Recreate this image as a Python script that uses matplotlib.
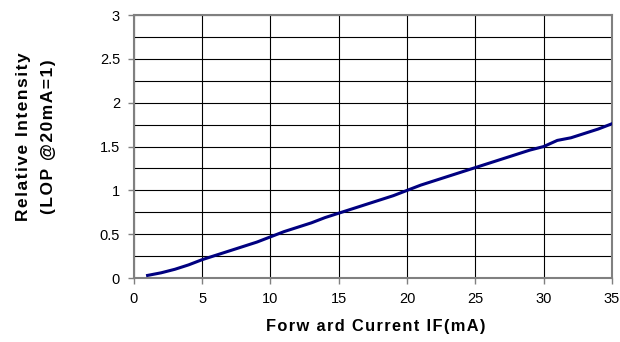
import matplotlib
matplotlib.use("Agg")
from matplotlib import pyplot as plt
import numpy as np

# forward current (mA) and relative light output
current = [1, 2, 3, 4, 5, 6, 7, 8, 9, 10, 11, 12, 13, 14, 15, 16, 17, 18,
           19, 20, 21, 22, 23, 24, 25, 26, 27, 28, 29, 30, 31, 32, 33, 34, 35]
intensity = [0.03, 0.06, 0.10, 0.15, 0.21, 0.26, 0.31, 0.36, 0.41, 0.47,
             0.53, 0.58, 0.63, 0.69, 0.74, 0.79, 0.84, 0.89, 0.94, 1.00,
             1.06, 1.11, 1.16, 1.21, 1.26, 1.31, 1.36, 1.41, 1.46, 1.50,
             1.57, 1.60, 1.65, 1.70, 1.76]

xticks = [0, 5, 10, 15, 20, 25, 30, 35]
yticks = [0, 0.5, 1, 1.5, 2, 2.5, 3]

plt.rcParams['font.family'] = ['Liberation Sans', 'DejaVu Sans']


def spaced(s):
    # excel-style letter spacing
    return '\u200a'.join(s)


fig = plt.figure(figsize=(6.2, 3.42), dpi=100)
ax = fig.add_axes([0.216, 0.187, 0.771, 0.769])

ax.plot(current, intensity, color='#000080', lw=2.2, zorder=3)

ax.set_xlim(0, 35)
ax.set_ylim(0, 3)
ax.set_xticks(xticks)
ax.set_yticks(yticks)
ax.set_xticklabels([str(t) for t in xticks])
ax.set_yticklabels(['0', '0.5', '1', '1.5', '2', '2.5', '3'])
ax.set_yticks(np.arange(0, 3.01, 0.25), minor=True)
ax.tick_params(which='minor', length=0)
ax.tick_params(which='major', direction='out', length=4, width=1, color='#808080',
               labelsize=10.5, pad=6)

ax.grid(True, which='both', axis='y', color='black', lw=0.8)
ax.grid(True, which='major', axis='x', color='black', lw=0.8)
ax.set_axisbelow(True)
for s in ax.spines.values():
    s.set_color('#808080')
    s.set_linewidth(1.5)

fig.text(376 / 620, 1 - 327 / 342, spaced('Forw ard Current IF(mA)'),
         fontsize=11.8, fontweight='bold', ha='center', va='center')
fig.text(36 / 620, 1 - 137 / 342,
         spaced('Relative Intensity') + '\n' + spaced('(LOP @20mA=1)'),
         fontsize=12.5, fontweight='bold', rotation=90, ha='center', va='center',
         ma='center', linespacing=1.75)

fig.savefig('out.png', dpi=100)
